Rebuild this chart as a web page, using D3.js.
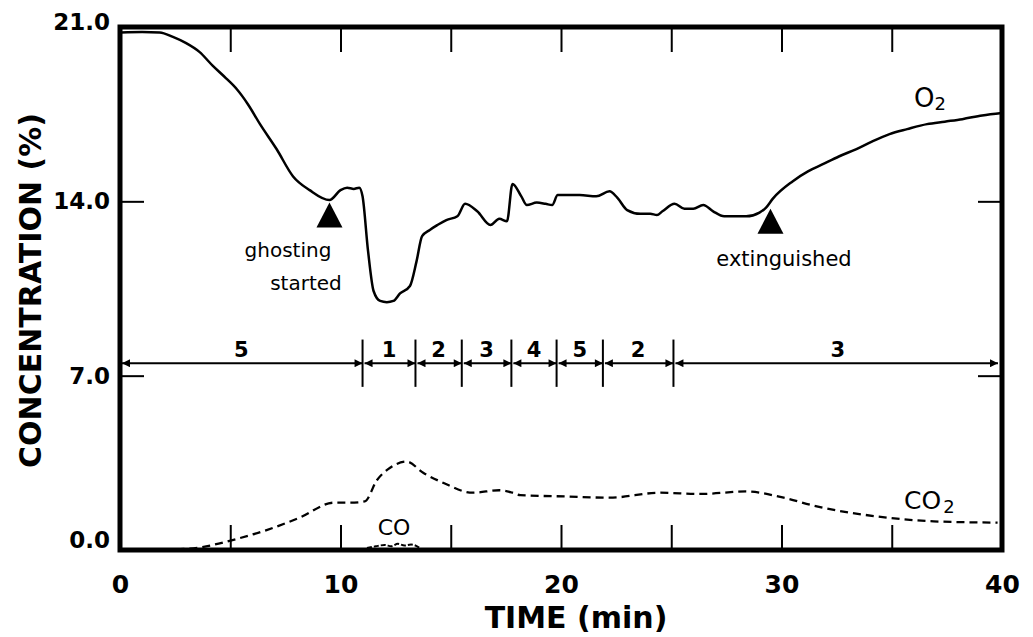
<!DOCTYPE html>
<html>
<head>
<meta charset="utf-8">
<script src="https://cdn.jsdelivr.net/npm/d3@7"></script>
<style>
  html, body { margin: 0; padding: 0; background: #fff; }
  svg { display: block; }
  text { font-family: "DejaVu Sans", sans-serif; fill: #000; }
</style>
</head>
<body>
<svg id="chart" width="1033" height="637"></svg>
<script>
// Oxygen concentration over time (min, %)
const o2Time = [0.05, 1.0, 1.8, 2.4, 3.0, 3.6, 4.2, 4.8, 5.3, 5.8, 6.35, 7.1, 7.85, 8.6, 9.5, 10.0, 10.3, 10.6, 10.85, 11.0, 11.25, 11.5, 11.8, 12.1, 12.4, 12.7, 13.15, 13.45, 13.7, 14.05, 14.4, 14.8, 15.3, 15.65, 16.2, 16.8, 17.2, 17.55, 17.8, 18.2, 18.45, 18.9, 19.3, 19.6, 19.85, 20.85, 21.6, 22.2, 22.55, 23.0, 23.6, 24.05, 24.35, 24.6, 25.15, 25.6, 26.0, 26.45, 26.9, 27.4, 28.4, 29.0, 29.3, 29.6, 30.5, 31.2, 31.9, 32.6, 33.4, 34.1, 34.9, 35.7, 36.6, 37.4, 38.2, 39.1, 40.0];
const o2Value = [20.78, 20.8, 20.78, 20.6, 20.35, 20.0, 19.45, 18.95, 18.5, 17.9, 17.1, 16.1, 15.0, 14.45, 14.05, 14.45, 14.55, 14.5, 14.55, 14.2, 12.0, 10.4, 10.0, 9.95, 10.0, 10.3, 10.6, 11.6, 12.6, 12.85, 13.05, 13.25, 13.4, 13.9, 13.6, 13.05, 13.3, 13.2, 14.7, 14.2, 13.85, 13.95, 13.9, 13.85, 14.25, 14.25, 14.2, 14.4, 14.15, 13.65, 13.5, 13.5, 13.45, 13.6, 13.9, 13.7, 13.7, 13.85, 13.6, 13.4, 13.4, 13.55, 13.75, 14.1, 14.8, 15.2, 15.5, 15.8, 16.1, 16.4, 16.7, 16.9, 17.1, 17.2, 17.3, 17.45, 17.55];

// Carbon dioxide concentration (dashed)
const co2Time = [0.2, 2.5, 3.6, 5.1, 6.65, 8.15, 9.7, 10.45, 11.1, 11.65, 12.25, 13.0, 13.75, 14.65, 16.0, 17.2, 17.8, 18.15, 20.25, 22.2, 24.5, 26.3, 28.4, 30.1, 31.6, 33.1, 34.8, 36.9, 39.8];
const co2Value = [0.02, 0.03, 0.1, 0.4, 0.8, 1.3, 1.9, 1.9, 1.95, 2.8, 3.3, 3.55, 3.1, 2.7, 2.3, 2.4, 2.3, 2.2, 2.15, 2.1, 2.3, 2.25, 2.35, 2.1, 1.75, 1.5, 1.3, 1.15, 1.1];

// Carbon monoxide trace (small, near zero)
const coTime = [11.2, 11.6, 12.0, 12.3, 12.6, 12.9, 13.2, 13.6];
const coValue = [0.08, 0.15, 0.2, 0.15, 0.25, 0.18, 0.22, 0.08];

// Phase boundaries (min) and phase numbers between them
const phaseBounds = [0, 11.0, 13.4, 15.5, 17.75, 19.8, 21.9, 25.1, 40];
const phaseLabels = ["5", "1", "2", "3", "4", "5", "2", "3"];
const phaseLevel = 7.5;

// Event markers on the O2 trace
const eventTime = [9.5, 29.5];
const eventValue = [13.95, 13.7];

// Axis ticks
const xLabelTicks = [0, 10, 20, 30, 40];
const xMinorTicks = [5, 10, 15, 20, 25, 30, 35];
const yLabelTicks = [0, 7, 14, 21];
const yInnerTicks = [7, 14];

const svg = d3.select("#chart");
const plotLeft = 120, plotRight = 1002, plotTop = 27, plotBottom = 550;

const x = d3.scaleLinear().domain([0, 40]).range([plotLeft, plotRight]);
const y = d3.scaleLinear().domain([0, 21]).range([plotBottom, plotTop]);

// Arrowhead marker for the phase line
const defs = svg.append("defs");
defs.append("marker")
  .attr("id", "arrow")
  .attr("viewBox", "0 0 10 10")
  .attr("refX", 10).attr("refY", 5)
  .attr("markerUnits", "userSpaceOnUse")
  .attr("markerWidth", 13).attr("markerHeight", 8)
  .attr("orient", "auto-start-reverse")
  .append("path").attr("d", "M0,0 L10,5 L0,10 Z").attr("fill", "#000");

// Inner ticks on all four sides
function styleTicks(g) {
  g.select(".domain").remove();
  g.selectAll(".tick line").attr("stroke", "#000").attr("stroke-width", 2);
  g.selectAll(".tick text").remove();
}
svg.append("g").attr("transform", `translate(0,${plotBottom})`)
  .call(d3.axisTop(x).tickValues(xMinorTicks).tickSize(25)).call(styleTicks);
svg.append("g").attr("transform", `translate(0,${plotTop})`)
  .call(d3.axisBottom(x).tickValues(xMinorTicks).tickSize(25)).call(styleTicks);
svg.append("g").attr("transform", `translate(${plotLeft},0)`)
  .call(d3.axisRight(y).tickValues(yInnerTicks).tickSize(24)).call(styleTicks);
svg.append("g").attr("transform", `translate(${plotRight},0)`)
  .call(d3.axisLeft(y).tickValues(yInnerTicks).tickSize(24)).call(styleTicks);

// Tick labels
const xAxisLabels = svg.append("g").attr("transform", `translate(0,${plotBottom})`)
  .call(d3.axisBottom(x).tickValues(xLabelTicks).tickSize(0).tickPadding(25).tickFormat(d3.format("d")));
xAxisLabels.select(".domain").remove();
xAxisLabels.selectAll("text").attr("font-family", "DejaVu Sans").attr("font-weight", "bold").attr("font-size", 25);

const yAxisLabels = svg.append("g").attr("transform", `translate(${plotLeft - 10},0)`)
  .call(d3.axisLeft(y).tickValues(yLabelTicks).tickSize(0).tickPadding(0).tickFormat(d3.format(".1f")));
yAxisLabels.select(".domain").remove();
yAxisLabels.selectAll("text").attr("font-family", "DejaVu Sans").attr("font-weight", "bold").attr("font-size", 23)
  .attr("dy", d => d === 0 ? "-0.1em" : d === 21 ? "0.1em" : "0.32em");

// Frame
svg.append("rect")
  .attr("x", plotLeft).attr("y", plotTop)
  .attr("width", plotRight - plotLeft).attr("height", plotBottom - plotTop)
  .attr("fill", "none").attr("stroke", "#000").attr("stroke-width", 5);

// Axis titles
svg.append("text")
  .attr("x", 576).attr("y", 628)
  .attr("text-anchor", "middle").attr("font-weight", "bold").attr("font-size", 30)
  .text("TIME (min)");
svg.append("text")
  .attr("transform", `translate(41,${(plotTop + plotBottom) / 2 + 2}) rotate(-90)`)
  .attr("text-anchor", "middle").attr("font-weight", "bold").attr("font-size", 30)
  .text("CONCENTRATION (%)");

// Phase line with boundaries
const phases = phaseLabels.map((p, i) => ({ a: phaseBounds[i], b: phaseBounds[i + 1], label: p }));
const pg = svg.append("g");
pg.selectAll("line.seg").data(phases).enter().append("line")
  .attr("class", "seg")
  .attr("x1", d => x(d.a) + 2).attr("x2", d => x(d.b) - (d.b === 40 ? 4 : 0))
  .attr("y1", y(phaseLevel)).attr("y2", y(phaseLevel))
  .attr("stroke", "#000").attr("stroke-width", 2)
  .attr("marker-start", "url(#arrow)").attr("marker-end", "url(#arrow)");
pg.selectAll("line.bound").data(phaseBounds.slice(1, -1)).enter().append("line")
  .attr("class", "bound")
  .attr("x1", d => x(d)).attr("x2", d => x(d))
  .attr("y1", y(phaseLevel + 0.95)).attr("y2", y(phaseLevel - 0.95))
  .attr("stroke", "#000").attr("stroke-width", 2);
pg.selectAll("text").data(phases).enter().append("text")
  .attr("x", d => x((d.a + d.b) / 2)).attr("y", y(phaseLevel) - 6)
  .attr("text-anchor", "middle").attr("font-weight", "bold").attr("font-size", 21)
  .text(d => d.label);

// Curves
const o2 = o2Time.map((t, i) => [t, o2Value[i]]);
const co2 = co2Time.map((t, i) => [t, co2Value[i]]);
const co = coTime.map((t, i) => [t, coValue[i]]);
const line = d3.line().x(d => x(d[0])).y(d => y(d[1])).curve(d3.curveMonotoneX);

svg.append("path").datum(o2).attr("d", line)
  .attr("fill", "none").attr("stroke", "#000").attr("stroke-width", 2.5).attr("stroke-linejoin", "round");
svg.append("path").datum(co2).attr("d", line)
  .attr("fill", "none").attr("stroke", "#000").attr("stroke-width", 2.3).attr("stroke-dasharray", "8,5");
svg.append("path").datum(co).attr("d", line)
  .attr("fill", "none").attr("stroke", "#000").attr("stroke-width", 2).attr("stroke-dasharray", "5,2");

// Event triangles
svg.selectAll("path.event").data(eventTime.map((t, i) => [t, eventValue[i]])).enter()
  .append("path").attr("class", "event")
  .attr("d", d => {
    const px = x(d[0]), py = y(d[1]);
    return `M${px},${py} L${px + 13},${py + 25} L${px - 13},${py + 25} Z`;
  })
  .attr("fill", "#000");

// Annotations
svg.append("text").attr("x", 288).attr("y", 257).attr("text-anchor", "middle").attr("font-size", 20).text("ghosting");
svg.append("text").attr("x", 306).attr("y", 290).attr("text-anchor", "middle").attr("font-size", 20).text("started");
svg.append("text").attr("x", 784).attr("y", 266).attr("text-anchor", "middle").attr("font-size", 21).text("extinguished");

const o2Label = svg.append("text").attr("x", 914).attr("y", 107).attr("font-size", 26);
o2Label.append("tspan").text("O");
o2Label.append("tspan").attr("font-size", 18).attr("dy", 3).text("2");

const co2Label = svg.append("text").attr("x", 904).attr("y", 509).attr("font-size", 25);
co2Label.append("tspan").text("CO");
co2Label.append("tspan").attr("font-size", 18).attr("dy", 4).attr("dx", 2).text("2");

svg.append("text").attr("x", 394).attr("y", 535).attr("text-anchor", "middle").attr("font-size", 22).text("CO");
</script>
</body>
</html>
